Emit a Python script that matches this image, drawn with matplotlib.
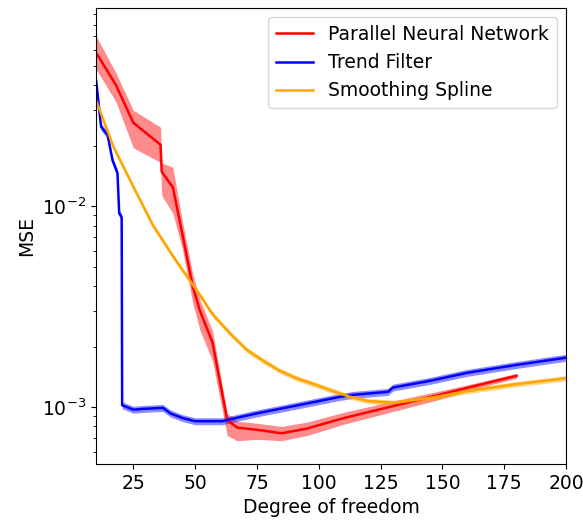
import numpy as np
import matplotlib.pyplot as plt

# Parallel neural network: mean MSE with band
pnn_df = [10, 18, 25, 36, 36.5, 41, 45, 49, 52, 57, 63, 67, 75, 85, 95, 110, 130, 150, 165, 180]
pnn_mse = [0.058, 0.040, 0.026, 0.0202, 0.0148, 0.0124, 0.0071, 0.0040, 0.0030, 0.0021,
           0.00086, 0.00079, 0.00077, 0.00074, 0.00078, 0.00088, 0.00101, 0.00116, 0.00129, 0.00143]
pnn_upper = [0.070, 0.046, 0.030, 0.0247, 0.0164, 0.0156, 0.0082, 0.0046, 0.0034, 0.0024,
             0.00093, 0.00085, 0.00083, 0.00080, 0.00084, 0.00094, 0.00107, 0.00121, 0.00133, 0.00147]
pnn_lower = [0.048, 0.033, 0.0195, 0.0165, 0.0113, 0.0092, 0.0060, 0.0033, 0.0024, 0.0017,
             0.00072, 0.00068, 0.00069, 0.00068, 0.00072, 0.00082, 0.00095, 0.00110, 0.00125, 0.00139]

# Trend filter
tf_df = [10, 11.5, 12, 14.6, 16.6, 18.6, 19.3, 20.3, 20.5, 25, 30, 37, 40, 45, 50, 55, 61, 68, 75,
         88, 100, 108, 114, 128, 130, 145, 160, 180, 200]
tf_mse = [0.042, 0.028, 0.0248, 0.0226, 0.0169, 0.0146, 0.0092, 0.0088, 0.00102, 0.00097,
          0.00098, 0.00099, 0.00093, 0.00088, 0.00085, 0.00085, 0.00085, 0.00089, 0.00093,
          0.00100, 0.00107, 0.00112, 0.00115, 0.00119, 0.00125, 0.00135, 0.00148, 0.00162, 0.00176]
tf_spread = 0.04

# Smoothing spline
ss_df = [10, 17, 25, 33, 42, 46, 52, 57, 64, 71, 77.5, 84, 91, 98, 105, 112, 120, 131, 145,
         160, 180, 200]
ss_mse = [0.0335, 0.0197, 0.0125, 0.0080, 0.0054, 0.0046, 0.0036, 0.0029, 0.00233, 0.00192,
          0.0017, 0.00152, 0.00139, 0.0013, 0.00121, 0.00113, 0.00107, 0.00105, 0.00111,
          0.0012, 0.0013, 0.00139]
ss_spread = 0.03

plt.rcParams['font.size'] = 13.5
fig, ax = plt.subplots(figsize=(5.83, 5.22), dpi=100)
fig.subplots_adjust(left=0.165, right=0.971, bottom=0.111, top=0.985)

ax.fill_between(pnn_df, pnn_lower, pnn_upper, color='red', alpha=0.45, lw=0)
ax.plot(pnn_df, pnn_mse, color='red', lw=1.8, label='Parallel Neural Network')

tf = np.array(tf_mse)
ax.fill_between(tf_df, tf * (1 - tf_spread), tf * (1 + tf_spread), color='blue', alpha=0.45, lw=0)
ax.plot(tf_df, tf_mse, color='blue', lw=1.8, label='Trend Filter')

ss = np.array(ss_mse)
ax.fill_between(ss_df, ss * (1 - ss_spread), ss * (1 + ss_spread), color='orange', alpha=0.45, lw=0)
ax.plot(ss_df, ss_mse, color='orange', lw=1.8, label='Smoothing Spline')

ax.set_yscale('log')
ax.set_xlim(10, 200)
ax.set_ylim(5.2e-4, 0.097)
ax.set_xticks([25, 50, 75, 100, 125, 150, 175, 200])
ax.set_xlabel('Degree of freedom')
ax.set_ylabel('MSE')
ax.legend(loc='upper right')

plt.savefig('out.png')
